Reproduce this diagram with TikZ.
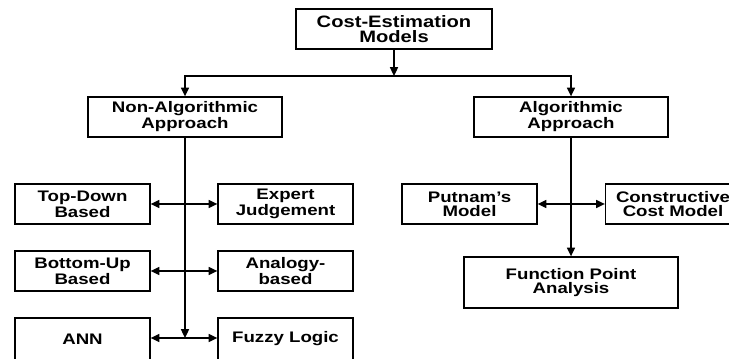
\documentclass[tikz,border=0pt]{standalone}
\usepackage{fontspec}
\setmainfont{Liberation Sans}[FakeStretch=1.22]
\usetikzlibrary{arrows.meta}
\begin{document}
\begin{tikzpicture}[line width=0.75pt,
      >={Triangle[length=5pt,width=4.6pt]},
      mybox/.style={draw,rectangle,align=center,inner sep=0pt,
        font=\bfseries\fontsize{8.7}{7.8}\selectfont,
        minimum width=2.7cm,minimum height=0.8cm},
      widebox/.style={mybox,minimum width=3.88cm}]
    \useasboundingbox (0,0) rectangle (14.58,7.16);
    \node[mybox,minimum width=3.92cm,font=\bfseries\fontsize{9.4}{8.2}\selectfont] at (7.88,6.58) (T0) {Cost-Estimation\\Models};
    \node[widebox] at (3.70,4.82) (L0) {Non-Algorithmic\\Approach};
    \node[widebox] at (11.42,4.82) (R0) {Algorithmic\\Approach};
    \node[mybox] at (1.65,3.08) (L1) {Top-Down\\Based};
    \node[mybox] at (5.71,3.08) (L2) {Expert\\Judgement};
    \node[mybox] at (1.65,1.74) (L3) {Bottom-Up\\Based};
    \node[mybox] at (5.71,1.74) (L4) {Analogy-\\based};
    \node[mybox,minimum height=0.84cm] at (1.65,0.38) (L5) {ANN};
    \node[mybox,minimum height=0.84cm] at (5.71,0.38) (L6) {Fuzzy Logic};
    \node[mybox] at (9.39,3.08) (R1) {Putnam’s\\Model};
    \node[mybox] at (13.46,3.08) (R2) {Constructive\\Cost Model};
    \node[mybox,minimum width=4.28cm,minimum height=1.02cm] at (11.42,1.51) (R3) {Function Point\\Analysis};
    \coordinate (J0) at (7.88,5.64);
    \coordinate (J1) at (3.70,0.40);
    \draw[->] (T0) -- (J0) ;
    \draw[->] (J0) -| (L0) ;
    \draw[->] (J0) -| (R0) ;
    \draw[->] (L0) -- (J1) ;
    \draw[<->] (L1) -- (L2) ;
    \draw[<->] (L3) -- (L4) ;
    \draw[<->] (L5.east |- J1) -- (L6.west |- J1) ;
    \draw[->] (R0) -- (R3) ;
    \draw[<->] (R1) -- (R2) ;
  \end{tikzpicture}
\end{document}
